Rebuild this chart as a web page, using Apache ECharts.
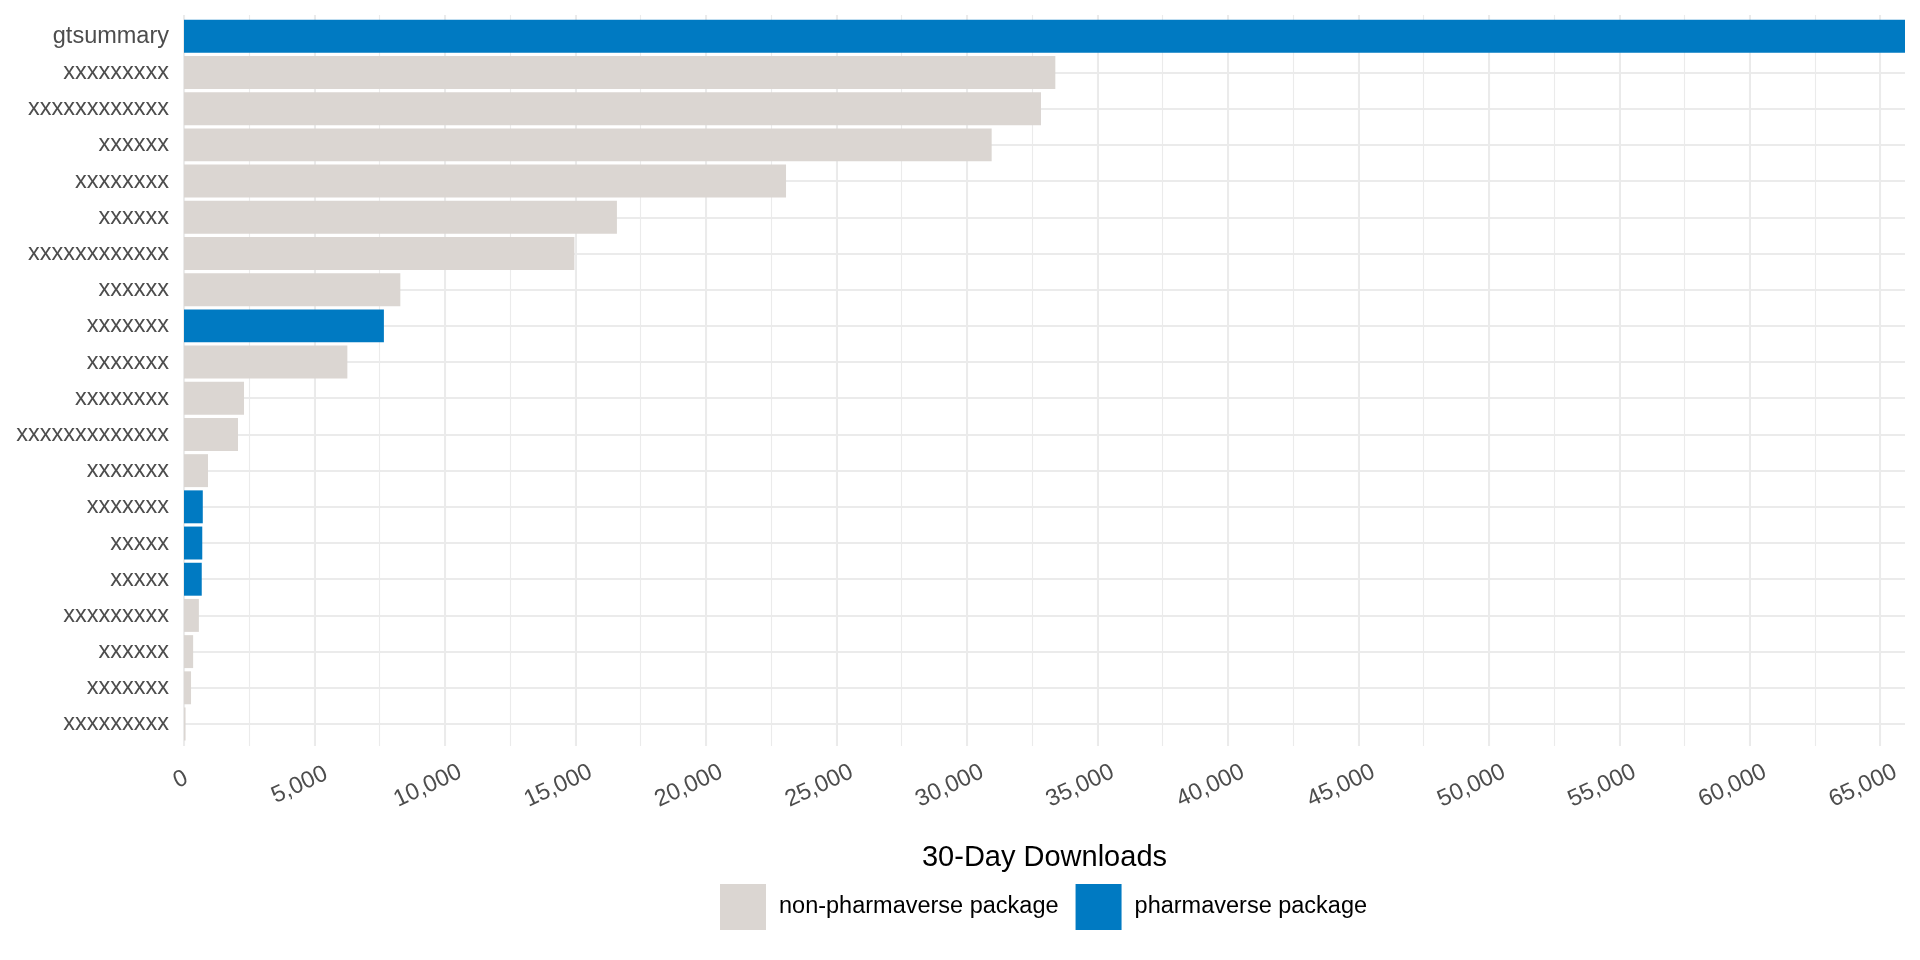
<!DOCTYPE html>
<html>
<head>
<meta charset="utf-8">
<script src="https://cdn.jsdelivr.net/npm/echarts@6/dist/echarts.min.js"></script>
<style>
html,body{margin:0;padding:0;background:#ffffff;}
#chart{width:1920px;height:960px;}
</style>
</head>
<body>
<div id="chart"></div>
<script>
// ---- data (top to bottom) ----
const categories = [
  'gtsummary', 'xxxxxxxxx', 'xxxxxxxxxxxx', 'xxxxxx', 'xxxxxxxx',
  'xxxxxx', 'xxxxxxxxxxxx', 'xxxxxx', 'xxxxxxx', 'xxxxxxx',
  'xxxxxxxx', 'xxxxxxxxxxxxx', 'xxxxxxx', 'xxxxxxx', 'xxxxx',
  'xxxxx', 'xxxxxxxxx', 'xxxxxx', 'xxxxxxx', 'xxxxxxxxx'
];
const downloads = [
  65950, 33390, 32840, 30950, 23070,
  16590, 14960, 8290, 7660, 6260,
  2300, 2070, 920, 720, 700,
  680, 570, 350, 270, 60
];
const isPharmaverse = [
  true, false, false, false, false,
  false, false, false, true, false,
  false, false, false, true, true,
  true, false, false, false, false
];
const legendNames = ['non-pharmaverse package', 'pharmaverse package'];
const axisTitle = '30-Day Downloads';
const majorStep = 5000;
const minorStep = 2500;

// ---- build ----
const FONT = '"Liberation Sans", Arial, Helvetica, sans-serif';
const GREY = '#dbd6d2';
const BLUE = '#007ac2';
const GRIDC = '#ebebeb';
const xMax = Math.max.apply(null, downloads);
const fmt = v => Number(v).toLocaleString('en-US');

const nonData = downloads.map((v, i) => isPharmaverse[i] ? '-' : v);
const phData = downloads.map((v, i) => isPharmaverse[i] ? v : '-');

const labelBase = {
  rotate: 25, margin: 32, fontSize: 23.5, color: '#4d4d4d', fontFamily: FONT
};
function labelAxis(pad, test) {
  return {
    gridIndex: 0, position: 'bottom', type: 'value', min: 0, max: xMax, interval: majorStep,
    axisLine: {show: false}, axisTick: {show: false}, splitLine: {show: false},
    axisLabel: Object.assign({}, labelBase, {
      padding: [0, pad, 0, 0],
      formatter: v => test(v) ? fmt(v) : ''
    })
  };
}

const option = {
  animation: false,
  backgroundColor: '#ffffff',
  grid: [
    {left: 184, right: 15, top: 15, bottom: 214, outerBoundsMode: 'none'},
    {left: 184, right: 15, top: 36.3, bottom: 236, outerBoundsMode: 'none'},
    {left: 184, right: 15, top: 18.2, bottom: 217.9, outerBoundsMode: 'none'}
  ],
  xAxis: [
    {
      gridIndex: 0, position: 'bottom', type: 'value', min: 0, max: xMax, interval: majorStep,
      axisLine: {show: false}, axisTick: {show: false},
      splitLine: {show: true, showMaxLine: false, lineStyle: {color: GRIDC, width: 2}},
      axisLabel: Object.assign({}, labelBase, {
        padding: [0, -17, 0, 0],
        formatter: v => (v >= 2 * majorStep && v % majorStep === 0) ? fmt(v) : ''
      }),
      name: axisTitle, nameLocation: 'middle', nameGap: 97,
      nameTextStyle: {fontSize: 29, color: '#000000', fontFamily: FONT}
    },
    {
      gridIndex: 0, position: 'bottom', type: 'value', min: 0, max: xMax, interval: minorStep,
      axisLine: {show: false}, axisTick: {show: false}, axisLabel: {show: false},
      splitLine: {show: true, showMaxLine: false, lineStyle: {color: GRIDC, width: 1.1}}
    },
    labelAxis(-3, v => v === 0),
    labelAxis(-13, v => v === majorStep),
    {gridIndex: 1, type: 'value', min: 0, max: xMax, show: false},
    {gridIndex: 2, type: 'value', min: 0, max: xMax, show: false}
  ],
  yAxis: [
    {gridIndex: 0, type: 'value', min: 0, max: 1, show: false},
    {
      gridIndex: 1, type: 'value', min: 0, max: categories.length - 1, interval: 1, inverse: true,
      axisLine: {show: false}, axisTick: {show: false}, axisLabel: {show: false},
      splitLine: {show: true, lineStyle: {color: GRIDC, width: 2}}
    },
    {
      gridIndex: 2, type: 'category', data: categories, inverse: true,
      axisLine: {show: false}, axisTick: {show: false}, splitLine: {show: false},
      axisLabel: {fontSize: 23.5, color: '#4d4d4d', margin: 15, fontFamily: FONT}
    }
  ],
  legend: {
    data: legendNames, left: 715, top: 879, orient: 'horizontal',
    itemWidth: 46, itemHeight: 46, itemGap: 17, icon: 'rect', selectedMode: false,
    textStyle: {fontSize: 23.5, color: '#000000', fontFamily: FONT, padding: [0, 0, 0, 8]}
  },
  series: [
    {
      type: 'bar', name: legendNames[0], xAxisIndex: 5, yAxisIndex: 2, stack: 'all',
      data: nonData, barCategoryGap: '9%', itemStyle: {color: GREY}, z: 3
    },
    {
      type: 'bar', name: legendNames[1], xAxisIndex: 5, yAxisIndex: 2, stack: 'all',
      data: phData, barCategoryGap: '9%', itemStyle: {color: BLUE}, z: 3
    }
  ]
};

const chart = echarts.init(document.getElementById('chart'), null, {renderer: 'canvas'});
chart.setOption(option);
</script>
</body>
</html>
